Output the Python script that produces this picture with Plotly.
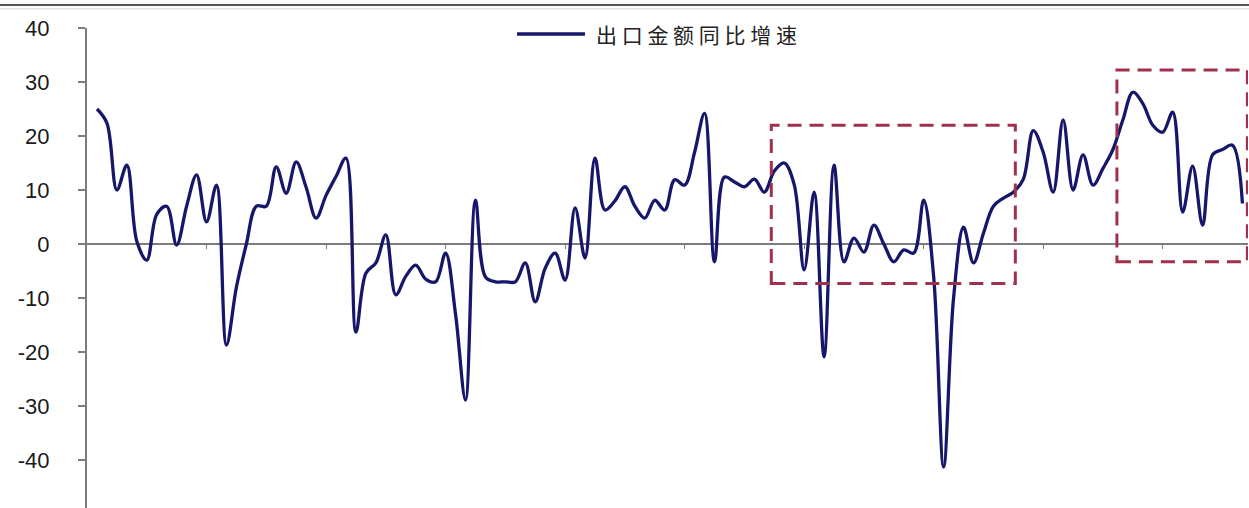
import plotly.graph_objects as go

# Monthly export value growth, year on year (%)
series_name = "出口金额同比增速"
growth = [
    25.0, 22.4, 10.0, 14.6, 0.5, -3.0, 5.5, 7.0, -0.2, 7.0,
    12.8, 4.1, 10.9, -18.7, -8.0, 0.0, 7.0, 7.0, 14.3, 9.4,
    15.2, 10.5, 4.8, 9.0, 12.5, 15.9, -16.3, -5.4, -3.5, 1.7,
    -9.4, -6.0, -3.9, -6.5, -7.0, -1.7, -13.0, -28.9, 8.1, -6.1,
    -7.0, -7.0, -7.0, -3.5, -10.7, -4.5, -1.7, -6.7, 6.7, -2.6,
    15.9, 6.3, 8.0, 10.6, 7.0, 4.8, 8.1, 6.3, 11.9, 10.9,
    17.0, 24.2, -3.3, 12.4, 11.5, 10.6, 12.0, 9.6, 13.5, 15.0,
    11.0, -4.8, 9.6, -20.9, 14.6, -3.3, 1.1, -1.5, 3.5, 0.0,
    -3.3, -1.1, -1.7, 8.1, -6.0, -41.3, -10.0, 3.1, -3.5, 2.0,
    7.0, 8.5, 9.6, 12.0, 21.0, 17.0, 9.6, 23.0, 10.0, 16.5,
    10.9, 14.0, 17.5, 23.0, 28.1, 26.0, 22.0, 20.7, 24.4, 5.9,
    14.4, 3.5, 16.5, 17.5, 18.3, 7.5,
]
months = list(range(len(growth)))

# Year-end tick positions on the zero line
year_ticks = [11, 23, 35, 47, 59, 71, 83, 95, 107]

# Y axis ticks
y_ticks = [40, 30, 20, 10, 0, -10, -20, -30, -40]
y_tick_text = ["40", "30", "20", "10", "0", "-10", "-20", "-30", "-40"]

# Highlighted periods: (start month, end month, low, high)
highlights = [
    (67.7, 92.2, -7.3, 22.0),
    (102.4, 115.5, -3.3, 32.2),
]

X_RANGE = [-1.0, 115.56]
Y_RANGE = [-48.89, 40.0]

NAVY = "#16166a"
GREY = "#7c7c7c"
BOX_RED = "#a0304c"

fig = go.Figure()
fig.add_trace(go.Scatter(
    x=months, y=growth, mode="lines", name=series_name,
    line=dict(color=NAVY, width=3.3, shape="spline", smoothing=1.0),
    showlegend=False, hoverinfo="skip",
))

for x0, x1, y0, y1 in highlights:
    fig.add_shape(type="rect", xref="x", yref="y", x0=x0, x1=x1, y0=y0, y1=y1,
                  line=dict(color=BOX_RED, width=3, dash="14px,8px"),
                  fillcolor="rgba(0,0,0,0)", layer="above")

# Legend drawn by hand: sample line plus label
fig.add_shape(type="line", xref="paper", yref="paper",
              x0=0.3704, x1=0.4289, y0=0.9875, y1=0.9875,
              line=dict(color=NAVY, width=3.3))
fig.add_annotation(xref="paper", yref="paper", x=0.4367, y=0.9875,
                   xanchor="left", yanchor="middle", showarrow=False,
                   text=" ".join(series_name),
                   font=dict(family="Noto Sans CJK SC", size=21, color="#222222"))

# Header rule across the top
fig.add_shape(type="line", xref="paper", yref="paper",
              x0=-0.08, x1=1.01, y0=1.048, y1=1.048,
              line=dict(color="#555555", width=2))
fig.add_shape(type="line", xref="paper", yref="paper",
              x0=-0.08, x1=1.01, y0=1.040, y1=1.040,
              line=dict(color="#d8d8d8", width=1))

zero_pos = -Y_RANGE[0] / (Y_RANGE[1] - Y_RANGE[0])

fig.update_layout(
    width=1249, height=508,
    margin=dict(l=87, r=1, t=28, b=0),
    paper_bgcolor="white", plot_bgcolor="white",
    xaxis=dict(
        range=X_RANGE, anchor="free", position=zero_pos,
        showline=True, linecolor=GREY, linewidth=2,
        ticks="outside", ticklen=4, tickwidth=1, tickcolor=GREY,
        tickvals=year_ticks, showticklabels=False,
        showgrid=False, zeroline=False, layer="below traces",
    ),
    yaxis=dict(
        range=Y_RANGE, showline=True, linecolor=GREY, linewidth=2,
        ticks="outside", ticklen=7, tickwidth=1.5, tickcolor=GREY,
        tickvals=y_ticks, ticktext=y_tick_text,
        tickfont=dict(family="Liberation Sans", size=22, color="#1a1a1a"),
        ticklabelstandoff=24,
        showgrid=False, zeroline=False, layer="below traces",
    ),
)

fig.write_html("out.html")
